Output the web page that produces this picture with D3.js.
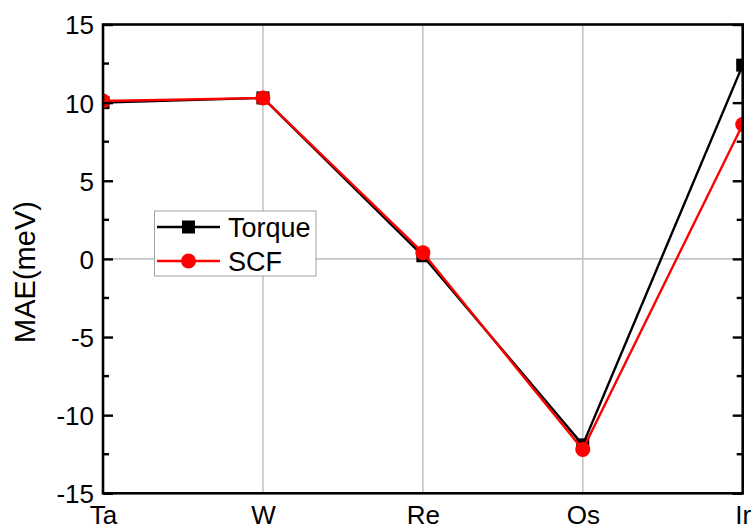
<!DOCTYPE html>
<html><head><meta charset="utf-8">
<script src="https://cdn.jsdelivr.net/npm/d3@7"></script>
<style>body{margin:0;background:#fff}svg{display:block}text{font-family:"Liberation Sans",Arial,sans-serif}</style>
</head><body>
<svg id="c" width="753" height="531"></svg>
<script>
const categories = ["Ta","W","Re","Os","Ir"];
const torque = [10.0, 10.3, 0.2, -11.9, 12.4];
const scf = [10.1, 10.3, 0.4, -12.2, 8.6];
const yTicks = [-15,-10,-5,0,5,10,15];
const yMinorTicks = [-12.5,-7.5,-2.5,2.5,7.5,12.5];

const svg = d3.select("#c");
const L=103, R=742.7, T=24.5, B=493.3;
const x = d3.scalePoint().domain(categories).range([L,R]);
const y = d3.scaleLinear().domain([-15,15]).range([B,T]);

// grid
svg.append("g").selectAll("line").data(categories.slice(1,-1)).join("line")
  .attr("x1",d=>x(d)).attr("x2",d=>x(d)).attr("y1",T).attr("y2",B)
  .attr("stroke","#c4c4c4").attr("stroke-width",1.6);
svg.append("line").attr("x1",L).attr("x2",R).attr("y1",y(0)).attr("y2",y(0))
  .attr("stroke","#c4c4c4").attr("stroke-width",1.6);

// clip
svg.append("clipPath").attr("id","clip").append("rect")
  .attr("x",L).attr("y",T).attr("width",R-L).attr("height",B-T);

const plot = svg.append("g").attr("clip-path","url(#clip)");
const line = (vals)=> d3.line().x((d,i)=>x(categories[i])).y(d=>y(d))(vals);

plot.append("path").attr("d",line(torque)).attr("fill","none").attr("stroke","#000").attr("stroke-width",2.4);
plot.append("g").selectAll("rect").data(torque).join("rect")
  .attr("x",(d,i)=>x(categories[i])-6.5).attr("y",d=>y(d)-6.5)
  .attr("width",13).attr("height",13).attr("fill","#000");
plot.append("path").attr("d",line(scf)).attr("fill","none").attr("stroke","#ff0000").attr("stroke-width",2.4);
plot.append("g").selectAll("circle").data(scf).join("circle")
  .attr("cx",(d,i)=>x(categories[i])).attr("cy",d=>y(d)).attr("r",7.5).attr("fill","#ff0000");

// y axes
const yl = svg.append("g").attr("transform",`translate(${L},0)`)
  .call(d3.axisLeft(y).tickValues(yTicks).tickSize(-10).tickPadding(9).tickFormat(d=>String(d)));
yl.selectAll(".tick text").attr("font-size",26).attr("fill","#000").attr("dy","0.36em");
yl.selectAll(".tick line").attr("stroke-width",2.4);
yl.select(".domain").remove();
svg.append("g").selectAll("line").data(yMinorTicks).join("line")
  .attr("x1",L).attr("x2",L+6).attr("y1",d=>y(d)).attr("y2",d=>y(d)).attr("stroke","#000").attr("stroke-width",2.4);

const yr = svg.append("g").attr("transform",`translate(${R},0)`)
  .call(d3.axisRight(y).tickValues(yTicks).tickSize(-10).tickFormat(""));
yr.selectAll(".tick line").attr("stroke-width",2.4);
yr.select(".domain").remove();
svg.append("g").selectAll("line").data(yMinorTicks).join("line")
  .attr("x1",R).attr("x2",R-6).attr("y1",d=>y(d)).attr("y2",d=>y(d)).attr("stroke","#000").attr("stroke-width",2.4);

// frame
svg.append("rect").attr("x",L).attr("y",T).attr("width",R-L).attr("height",B-T)
  .attr("fill","none").attr("stroke","#000").attr("stroke-width",2.6);

// x axis labels
const xa = svg.append("g").attr("transform",`translate(0,${B})`)
  .call(d3.axisBottom(x).tickSize(0).tickPadding(0));
xa.select(".domain").remove();
xa.selectAll(".tick text").attr("font-size",26).attr("fill","#000").attr("y",31).attr("dy",null);

// y title
svg.append("text").attr("transform",`translate(35,272) rotate(-90)`)
  .attr("text-anchor","middle").attr("font-size",29).text("MAE(meV)");

// legend
const lg = svg.append("g");
lg.append("rect").attr("x",154.5).attr("y",211).attr("width",161.5).attr("height",65)
  .attr("fill","#fff").attr("stroke","#a0a0a0").attr("stroke-width",1);
const items=[{name:"Torque",c:"#000",shape:"sq"},{name:"SCF",c:"#ff0000",shape:"ci"}];
items.forEach((it,i)=>{
  const cy = 227 + i*34;
  lg.append("line").attr("x1",157).attr("x2",220).attr("y1",cy).attr("y2",cy).attr("stroke",it.c).attr("stroke-width",2.4);
  if(it.shape==="sq") lg.append("rect").attr("x",182).attr("y",cy-6.5).attr("width",13).attr("height",13).attr("fill",it.c);
  else lg.append("circle").attr("cx",188.5).attr("cy",cy).attr("r",7.5).attr("fill",it.c);
  lg.append("text").attr("x",228).attr("y",cy).attr("dy","0.36em").attr("font-size",27).text(it.name);
});
</script>
</body></html>
